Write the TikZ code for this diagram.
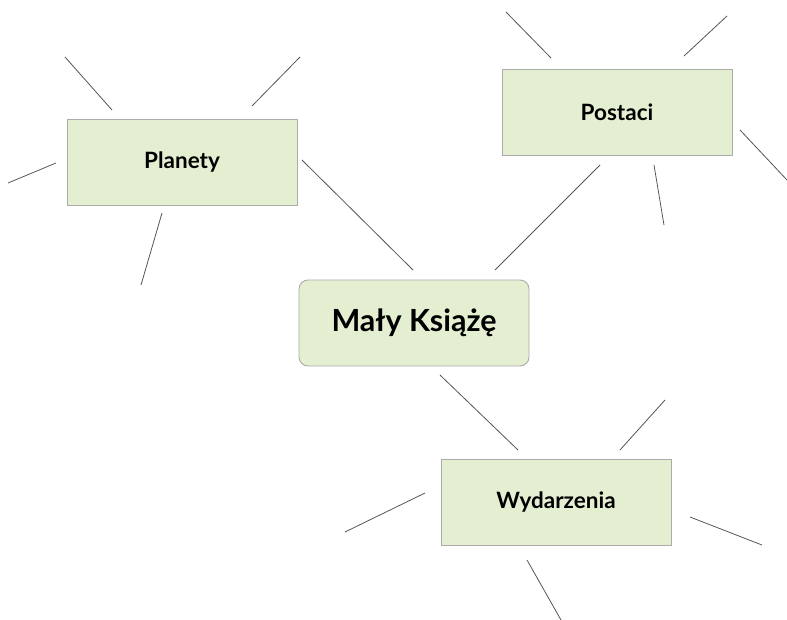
\documentclass[tikz,border=0pt]{standalone}
\usepackage{fontspec}
\setmainfont{Lato}
\definecolor{boxfill}{HTML}{E4EFD2}
\definecolor{boxline}{HTML}{ABABAB}
\definecolor{linkc}{HTML}{555555}
\begin{document}
\begin{tikzpicture}[x=1pt,y=-1pt,
  topic/.style={draw=boxline,fill=boxfill,line width=0.9pt,minimum width=230pt,minimum height=86pt,inner sep=0pt,font=\fontsize{22.5}{26}\selectfont\bfseries},
  central/.style={topic,rounded corners=9pt,font=\fontsize{30.5}{34}\selectfont\bfseries},
  link/.style={draw=linkc,line width=0.8pt}]
\useasboundingbox (0,0) rectangle (787,620);
\node[topic] (pl) at (182,162) {Planety};
\node[topic] (po) at (617,112) {Postaci};
\node[central] (mk) at (414,323) {Mały Książę};
\node[topic] (wy) at (556,502) {Wydarzenia};
% connectors between boxes
\coordinate (pl-o) at (302,160); \coordinate (mk-pl) at (413,270);
\coordinate (po-o) at (600,165); \coordinate (mk-po) at (495,270);
\coordinate (mk-wy) at (440,375); \coordinate (wy-o) at (518,450);
\draw[link] (pl-o) -- (mk-pl);
\draw[link] (po-o) -- (mk-po);
\draw[link] (mk-wy) -- (wy-o);
% spokes
\foreach \a/\b/\c/\d in {65/57/112/110, 300/57/252/106, 8/183/56/163, 162/213/141/285,
  506/12/551/58, 727/16/684/56, 740/130/787/180, 654/165/664/225,
  665/400/620/450, 425/493/345/532, 690/517/762/545, 527/560/561/620}{
  \coordinate (s1) at (\a,\b); \coordinate (s2) at (\c,\d);
  \draw[link] (s1) -- (s2);
}
\end{tikzpicture}
\end{document}
